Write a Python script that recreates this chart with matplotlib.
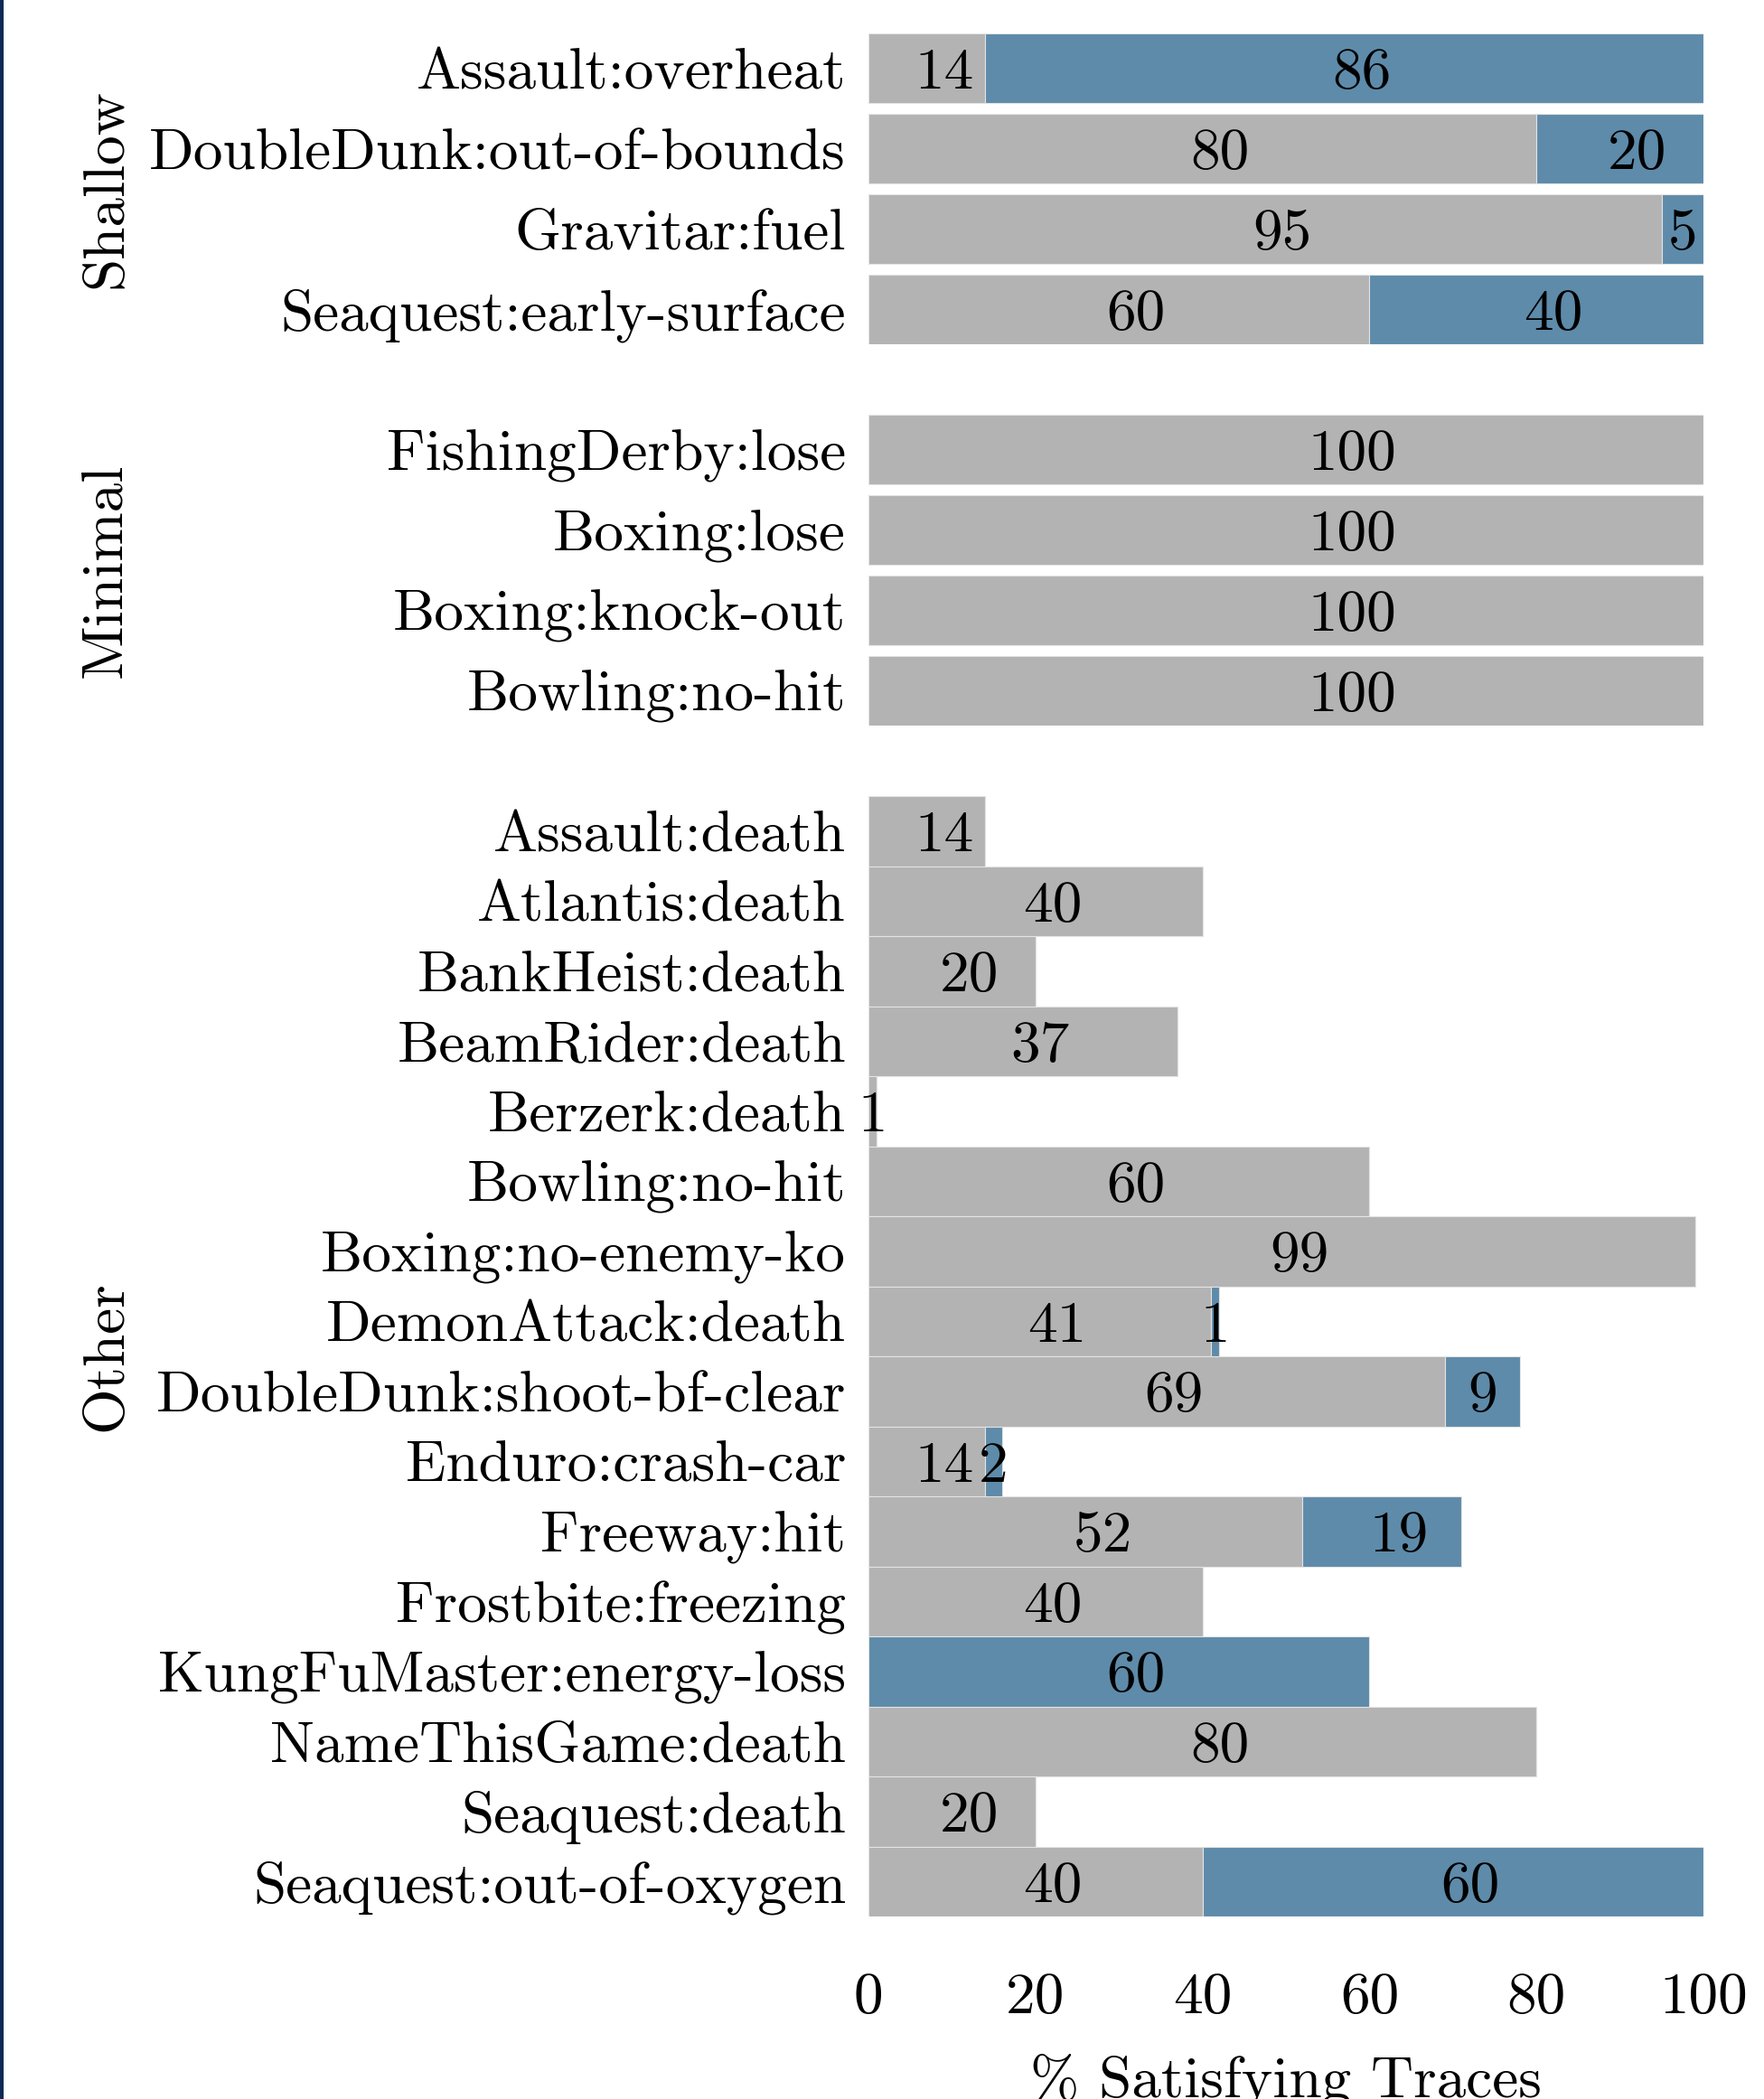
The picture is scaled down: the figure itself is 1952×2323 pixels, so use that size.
import matplotlib
matplotlib.use('Agg')
import matplotlib.pyplot as plt
from matplotlib.patches import Rectangle

plt.rcParams['font.family'] = ['cmr10', 'DejaVu Serif']
plt.rcParams['mathtext.fontset'] = 'cm'
plt.rcParams['axes.unicode_minus'] = False
plt.rcParams['axes.formatter.use_mathtext'] = True
size = 47

GREY = '#b3b3b3'
BLUE = '#5e8baa'

# data
groups = ['Shallow', 'Minimal', 'Other']

shallow_labels = ['Assault:overheat', 'DoubleDunk:out-of-bounds',
                  'Gravitar:fuel', 'Seaquest:early-surface']
shallow_grey = [14, 80, 95, 60]
shallow_blue = [86, 20, 5, 40]

minimal_labels = ['FishingDerby:lose', 'Boxing:lose',
                  'Boxing:knock-out', 'Bowling:no-hit']
minimal_grey = [100, 100, 100, 100]
minimal_blue = [0, 0, 0, 0]

other_labels = ['Assault:death', 'Atlantis:death', 'BankHeist:death',
                'BeamRider:death', 'Berzerk:death', 'Bowling:no-hit',
                'Boxing:no-enemy-ko', 'DemonAttack:death',
                'DoubleDunk:shoot-bf-clear', 'Enduro:crash-car',
                'Freeway:hit', 'Frostbite:freezing',
                'KungFuMaster:energy-loss', 'NameThisGame:death',
                'Seaquest:death', 'Seaquest:out-of-oxygen']
other_grey = [14, 40, 20, 37, 1, 60, 99, 41, 69, 14, 52, 40, 0, 80, 20, 40]
other_blue = [0, 0, 0, 0, 0, 0, 0, 1, 9, 2, 19, 0, 60, 0, 0, 60]

xticks = [0, 20, 40, 60, 80, 100]

fig = plt.figure(figsize=(19.52, 23.23), dpi=100)

W, H = 1952, 2323
# axes boxes in pixels: (top, bottom)
boxes = [(37, 381), (459, 803), (881, 2121)]
x0, x1 = 961, 1885

panels = [
    (shallow_labels, shallow_grey, shallow_blue, 0.87),
    (minimal_labels, minimal_grey, minimal_blue, 0.87),
    (other_labels, other_grey, other_blue, 1.0),
]

# label nudge (pixels) by number of digits, as in the original
nudge = {1: 0, 2: 19, 3: 73}

axes = []
for (top, bot), (labels, grey, blue, h), name in zip(boxes, panels, groups):
    ax = fig.add_axes([x0 / W, 1 - bot / H, (x1 - x0) / W, (bot - top) / H])
    axes.append(ax)
    y = list(range(len(labels)))
    b1 = ax.barh(y, grey, height=h, color=GREY, edgecolor='#e4e4e4', linewidth=0.8)
    b2 = ax.barh(y, blue, left=grey, height=h, color=BLUE, edgecolor='#e4e4e4', linewidth=0.8)
    for bars, vals, lefts in [(b1, grey, [0] * len(grey)), (b2, blue, grey)]:
        for yi, v, l in zip(y, vals, lefts):
            if v == 0:
                continue
            s = str(v)
            ax.annotate(s, (l + v / 2, yi), xytext=(nudge[len(s)], 0),
                        textcoords='offset pixels', ha='center',
                        va='center_baseline', fontsize=size, color='black')
    ax.set_xlim(0, 100)
    ax.set_ylim(len(labels) - 1 + h / 2, -h / 2)
    ax.set_yticks(y)
    ax.set_yticklabels(labels, fontsize=size)
    ax.tick_params(axis='y', length=0, pad=18)
    for sp in ax.spines.values():
        sp.set_visible(False)
    fig.text(118 / W, 1 - (top + bot) / 2 / H, name, rotation=90,
             ha='center', va='center', fontsize=size)

for ax in axes[:2]:
    ax.set_xticks([])
ax = axes[2]
ax.set_xticks(xticks)
ax.set_xticklabels([str(t) for t in xticks], fontsize=size)
ax.tick_params(axis='x', length=0, pad=45)
ax.set_xlabel('% Satisfying Traces', fontsize=size, labelpad=22)

# dark frame edge on the left
fig.add_artist(Rectangle((0, 0), 4 / W, 1, transform=fig.transFigure,
                         color='#0c2a55', lw=0))

fig.savefig('out.png', dpi=100)
